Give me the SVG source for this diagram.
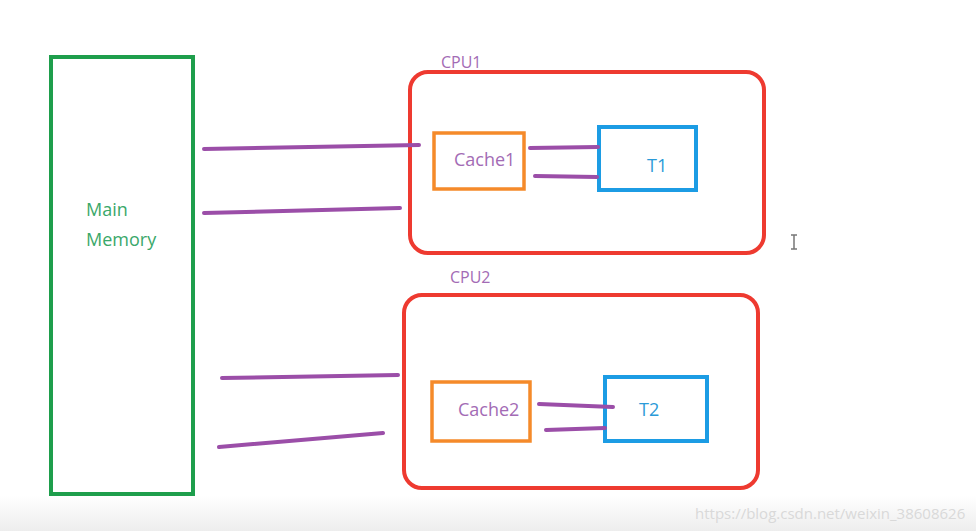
<svg xmlns="http://www.w3.org/2000/svg" width="976" height="531" viewBox="0 0 976 531">
<defs>
<linearGradient id="bot" x1="0" y1="0" x2="0" y2="1">
<stop offset="0" stop-color="#ffffff"/>
<stop offset="1" stop-color="#ededed"/>
</linearGradient>
</defs>
<style>
text{font-family:"Open Sans","Noto Sans","Liberation Sans",sans-serif}
.mem{fill:none;stroke:#1e9e4c;stroke-width:4}
.cpu{fill:none;stroke:#ee3a30;stroke-width:4}
.cache{fill:none;stroke:#f58a2a;stroke-width:3.5}
.thr{fill:none;stroke:#1c9ce4;stroke-width:4}
.wire{stroke:#9b4ea8;stroke-width:4;stroke-linecap:round;fill:none}
.pl{fill:#a36bb5;font-size:18px}
.gl{fill:#3aa86a;font-size:18px}
.bl{fill:#2a9ad8;font-size:18px}
</style>
<rect width="976" height="531" fill="#ffffff"/>
<rect x="0" y="495" width="976" height="36" fill="url(#bot)"/>
<g id="main-memory">
<rect class="mem" x="51" y="57" width="142" height="437"/>
<text class="gl" x="86" y="216">Main</text>
<text class="gl" x="86" y="246">Memory</text>
</g>
<g id="cpu1">
<rect class="cpu" x="410" y="72" width="354" height="181" rx="18"/>
<text class="pl" x="441" y="68" style="font-size:16px">CPU1</text>
</g>
<g id="cache1">
<rect class="cache" x="434" y="133" width="90" height="56"/>
<text class="pl" x="454" y="166">Cache1</text>
</g>
<g id="t1">
<rect class="thr" x="599" y="127" width="97" height="63"/>
<text class="bl" x="647" y="172">T1</text>
</g>
<g id="cpu2">
<rect class="cpu" x="404" y="295" width="354" height="193" rx="18"/>
<text class="pl" x="450" y="283" style="font-size:16px">CPU2</text>
</g>
<g id="cache2">
<rect class="cache" x="432" y="382" width="98" height="59"/>
<text class="pl" x="458" y="416">Cache2</text>
</g>
<g id="t2">
<rect class="thr" x="605" y="377" width="102" height="64"/>
<text class="bl" x="639" y="416">T2</text>
</g>
<g id="connectors">
<line class="wire" x1="204" y1="149" x2="419" y2="145"/>
<line class="wire" x1="204" y1="213" x2="400" y2="208"/>
<line class="wire" x1="222" y1="378" x2="398" y2="375"/>
<line class="wire" x1="219" y1="447" x2="383" y2="433"/>
<line class="wire" x1="530" y1="148" x2="598" y2="147"/>
<line class="wire" x1="535" y1="176" x2="597" y2="177"/>
<line class="wire" x1="539" y1="404" x2="613" y2="407"/>
<line class="wire" x1="546" y1="430" x2="605" y2="428"/>
</g>
<path d="M791 235h6M794 235v14M791 249h6" stroke="#777" stroke-width="1.5" fill="none"/>
<text x="695" y="519" font-size="15" fill="#d9d9d9" font-family="Liberation Sans,Arial,sans-serif">https://blog.csdn.net/weixin_38608626</text>
</svg>
